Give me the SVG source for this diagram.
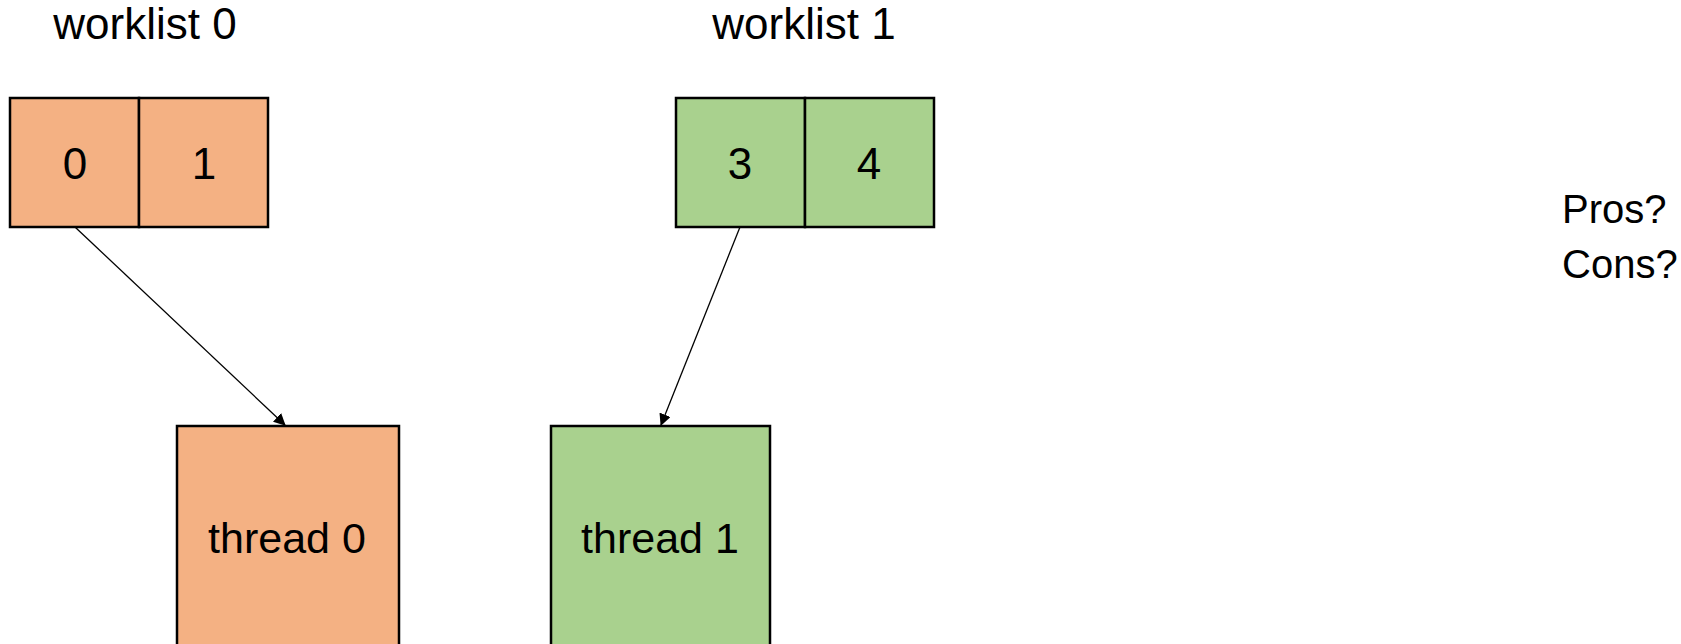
<svg xmlns="http://www.w3.org/2000/svg" width="1681" height="644" viewBox="0 0 1681 644">
  <style>
    .lbl { font-family: "Liberation Sans", Arial, sans-serif; fill: #000; }
    .title { font-size: 44px; text-anchor: middle; }
    .cell { font-size: 44px; text-anchor: middle; }
    .name { font-size: 43px; text-anchor: middle; }
    .note { font-size: 40px; }
    .box { stroke: #000; stroke-width: 2.5; }
    .orange { fill: #F4B183; }
    .green { fill: #A9D18E; }
    .edge { stroke: #000; stroke-width: 1.3; fill: none; marker-end: url(#arrow); }
  </style>
  <defs>
    <marker id="arrow" markerWidth="12" markerHeight="12" refX="11" refY="6" orient="auto" markerUnits="userSpaceOnUse">
      <path d="M0,0 L12,6 L0,12 Z" fill="#000"/>
    </marker>
  </defs>
  <rect width="1681" height="644" fill="#fff"/>

  <!-- worklist 0 -->
  <g id="worklist0">
    <text class="lbl title" x="145" y="39">worklist 0</text>
    <rect class="box orange" x="10" y="98" width="129" height="129"/>
    <rect class="box orange" x="139" y="98" width="129" height="129"/>
    <text class="lbl cell" x="75" y="179">0</text>
    <text class="lbl cell" x="204" y="179">1</text>
  </g>

  <!-- worklist 1 -->
  <g id="worklist1">
    <text class="lbl title" x="804" y="39">worklist 1</text>
    <rect class="box green" x="676" y="98" width="129" height="129"/>
    <rect class="box green" x="805" y="98" width="129" height="129"/>
    <text class="lbl cell" x="740" y="179">3</text>
    <text class="lbl cell" x="869" y="179">4</text>
  </g>

  <!-- thread 0 -->
  <g id="thread0">
    <rect class="box orange" x="177" y="426" width="222" height="240"/>
    <text class="lbl name" x="287" y="553">thread 0</text>
  </g>

  <!-- thread 1 -->
  <g id="thread1">
    <rect class="box green" x="551" y="426" width="219" height="240"/>
    <text class="lbl name" x="660" y="553">thread 1</text>
  </g>

  <!-- note -->
  <g id="note">
    <text class="lbl note" x="1562" y="223">Pros?</text>
    <text class="lbl note" x="1562" y="278">Cons?</text>
  </g>

  <!-- connectors -->
  <g id="connectors">
    <line class="edge" x1="75" y1="227" x2="285" y2="425"/>
    <line class="edge" x1="740" y1="227" x2="661" y2="425"/>
  </g>
</svg>
